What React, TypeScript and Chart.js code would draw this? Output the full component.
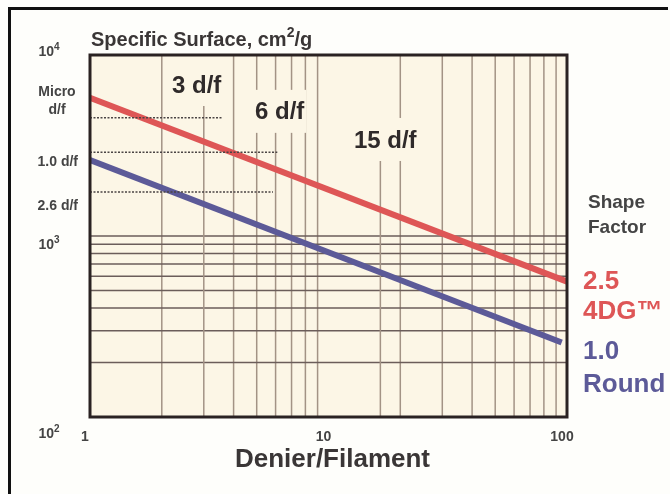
import React, { useEffect, useRef } from 'react';
import { Chart, registerables } from 'chart.js';

Chart.register(...registerables);

// ---- data ----
const xTickValues = [1, 10, 100];
const xTickLabels = ['1', '10', '100'];
const yTickValues = [10000, 1000, 100];
const yTickLabels = ['10⁴', '10³', '10²'];
const yTickLabelShift = [-5, 7, 15];

const verticalGrid = [2, 4, 5, 6, 7, 8, 9, 20, 30, 40, 50, 60, 70, 80, 90];
const horizontalGrid = [200, 300, 400, 500, 600, 700, 800, 900, 1000];

const shape25X = [1, 100];
const shape25Y = [5800, 560];
const roundX = [1, 95];
const roundY = [2630, 258];

const guideY = [4500, 2900, 1750];
const guideEndX = [3.6, 6.1, 5.85];

const sideLabels = ['Micro', 'd/f', '1.0 d/f', '2.6 d/f'];
const sideLabelY = [6250, 4970, 2560, 1470];

const dfLabels = ['3 d/f', '6 d/f', '15 d/f'];
const dfX = [2.8, 6.24, 17.3];
const dfY = [6740, 4790, 3350];
const dfMarkerX: (number | null)[] = [3, null, 16.5];

const shapeTitle = ['Shape', 'Factor'];
const shapeTitleY = [1520, 1107];
const seriesLabels = ['2.5', '4DG™', '1.0', 'Round'];
const seriesLabelY = [557, 380, 228, 150];

const titleText = 'Specific Surface, cm²/g';
const xTitle = 'Denier/Filament';

const RED = '#de5656';
const BLUE = '#5c5a98';
const PLOT_BG = '#fcf6e6';
const FONT = '"Liberation Sans", Arial, sans-serif';

const SUP: Record<string, string> = { '²': '2', '³': '3', '⁴': '4' };

// draws text whose superscript characters are rendered as raised small digits
function drawRich(ctx: CanvasRenderingContext2D, text: string, x: number, y: number, size: number, align: 'left' | 'center') {
  const parts: { t: string; sup: boolean }[] = [];
  for (const ch of text) {
    const sup = ch in SUP;
    const c = sup ? SUP[ch] : ch;
    const last = parts[parts.length - 1];
    if (last && last.sup === sup) last.t += c;
    else parts.push({ t: c, sup });
  }
  const supSize = Math.round(size * 0.68);
  let total = 0;
  parts.forEach((p) => {
    ctx.font = `bold ${p.sup ? supSize : size}px ${FONT}`;
    total += ctx.measureText(p.t).width;
  });
  let cx = align === 'center' ? x - total / 2 : x;
  ctx.textAlign = 'left';
  ctx.textBaseline = 'middle';
  parts.forEach((p) => {
    ctx.font = `bold ${p.sup ? supSize : size}px ${FONT}`;
    ctx.fillText(p.t, cx, p.sup ? y - size * 0.33 : y);
    cx += ctx.measureText(p.t).width;
  });
}

const decorPlugin = {
  id: 'decor',
  beforeDraw(chart: any) {
    const { ctx, chartArea: a } = chart;
    ctx.save();
    ctx.fillStyle = '#fefefb';
    ctx.fillRect(0, 0, chart.width, chart.height);
    ctx.fillStyle = PLOT_BG;
    ctx.fillRect(a.left, a.top, a.right - a.left, a.bottom - a.top);
    ctx.strokeStyle = '#111';
    ctx.lineWidth = 3;
    ctx.beginPath();
    ctx.moveTo(9.5, chart.height);
    ctx.lineTo(9.5, 8.5);
    ctx.lineTo(668, 8.5);
    ctx.stroke();
    ctx.restore();
  },
  beforeDatasetsDraw(chart: any) {
    const { ctx, chartArea: a, scales } = chart;
    const xs = scales.x;
    const ys = scales.y;
    ctx.save();
    ctx.strokeStyle = '#a39385';
    ctx.lineWidth = 1.5;
    verticalGrid.forEach((v) => {
      const px = xs.getPixelForValue(v);
      ctx.beginPath();
      ctx.moveTo(px, a.top);
      ctx.lineTo(px, a.bottom);
      ctx.stroke();
    });
    ctx.strokeStyle = '#6b5d5a';
    horizontalGrid.forEach((v) => {
      const py = ys.getPixelForValue(v);
      ctx.beginPath();
      ctx.moveTo(a.left, py);
      ctx.lineTo(a.right, py);
      ctx.stroke();
    });
    ctx.font = `bold 24px ${FONT}`;
    ctx.textAlign = 'center';
    ctx.textBaseline = 'middle';
    dfLabels.forEach((t, i) => {
      const cx = xs.getPixelForValue(dfX[i]);
      const cy = ys.getPixelForValue(dfY[i]);
      const w = ctx.measureText(t).width;
      const maskTop = cy - 23;
      const maskBottom = cy + 20;
      ctx.fillStyle = PLOT_BG;
      ctx.fillRect(cx - w / 2 - 2, maskTop, w + 4, maskBottom - maskTop);
      const m = dfMarkerX[i];
      if (m !== null) {
        const mx = xs.getPixelForValue(m);
        ctx.strokeStyle = '#a39385';
        ctx.beginPath();
        ctx.moveTo(mx, maskBottom);
        ctx.lineTo(mx, a.bottom);
        ctx.stroke();
      }
      ctx.fillStyle = '#2f2a2a';
      ctx.fillText(t, cx, cy);
    });
    ctx.restore();
  },
  afterDatasetsDraw(chart: any) {
    const { ctx, chartArea: a, scales } = chart;
    const xs = scales.x;
    const ys = scales.y;
    ctx.save();
    ctx.strokeStyle = '#2a2222';
    ctx.lineWidth = 3;
    ctx.strokeRect(a.left, a.top, a.right - a.left, a.bottom - a.top);

    // title
    ctx.fillStyle = '#3a3636';
    drawRich(ctx, titleText, a.left + 1, a.top - 15, 20, 'left');

    // y tick labels
    ctx.fillStyle = '#444';
    yTickValues.forEach((v, i) => {
      drawRich(ctx, yTickLabels[i], a.left - 41, ys.getPixelForValue(v) + yTickLabelShift[i] + 2, 14, 'center');
    });

    // side labels
    ctx.font = `bold 14px ${FONT}`;
    ctx.textBaseline = 'middle';
    ctx.fillStyle = '#444';
    sideLabels.forEach((t, i) => {
      const py = ys.getPixelForValue(sideLabelY[i]);
      if (i < 2) {
        ctx.textAlign = 'center';
        ctx.fillText(t, a.left - 33, py);
      } else {
        ctx.textAlign = 'right';
        ctx.fillText(t, a.left - 12, py);
      }
    });

    // x tick labels
    ctx.font = `bold 14px ${FONT}`;
    ctx.textAlign = 'center';
    xTickValues.forEach((v, i) => {
      ctx.fillText(xTickLabels[i], xs.getPixelForValue(v) - 5, a.bottom + 20);
    });

    // x title
    ctx.font = `bold 26px ${FONT}`;
    ctx.fillStyle = '#3a3636';
    ctx.fillText(xTitle, (a.left + a.right) / 2 + 4, a.bottom + 43);

    // shape factor
    ctx.textAlign = 'left';
    ctx.font = `bold 19px ${FONT}`;
    ctx.fillStyle = '#444';
    shapeTitle.forEach((t, i) => {
      ctx.fillText(t, a.right + 21, ys.getPixelForValue(shapeTitleY[i]));
    });
    ctx.font = `bold 26px ${FONT}`;
    seriesLabels.forEach((t, i) => {
      ctx.fillStyle = i < 2 ? RED : BLUE;
      ctx.fillText(t, a.right + 16, ys.getPixelForValue(seriesLabelY[i]));
    });
    ctx.restore();
  },
};

export default function App() {
  const ref = useRef<HTMLCanvasElement | null>(null);
  useEffect(() => {
    if (!ref.current) return;
    const guides = guideY.map((y, i) => ({
      data: [
        { x: 1, y },
        { x: guideEndX[i], y },
      ],
      borderColor: '#4a4444',
      borderWidth: 1.5,
      borderDash: [2, 1.5],
      pointRadius: 0,
    }));
    const chart = new Chart(ref.current, {
      type: 'line',
      data: {
        datasets: [
          ...guides,
          {
            data: shape25X.map((x, i) => ({ x, y: shape25Y[i] })),
            borderColor: RED,
            borderWidth: 6,
            pointRadius: 0,
          },
          {
            data: roundX.map((x, i) => ({ x, y: roundY[i] })),
            borderColor: BLUE,
            borderWidth: 6,
            pointRadius: 0,
          },
        ],
      },
      options: {
        animation: false,
        responsive: false,
        layout: { padding: { left: 90, right: 103, top: 55, bottom: 77 } },
        scales: {
          x: { type: 'logarithmic', min: 1, max: 100, display: false },
          y: { type: 'logarithmic', min: 100, max: 10000, display: false },
        },
        plugins: { legend: { display: false }, tooltip: { enabled: false } },
      },
      plugins: [decorPlugin],
    });
    return () => chart.destroy();
  }, []);
  return (
    <div style={{ position: 'fixed', left: 0, top: 0, width: 670, height: 494 }}>
      <canvas ref={ref} width={670} height={494} />
    </div>
  );
}
